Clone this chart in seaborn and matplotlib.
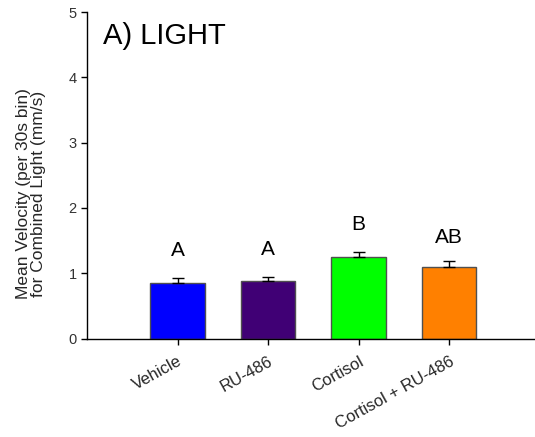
import matplotlib
matplotlib.use("Agg")
import matplotlib.pyplot as plt
import seaborn as sns
import pandas as pd
import numpy as np

categories = ["Vehicle", "RU-486", "Cortisol", "Cortisol + RU-486"]
means = [0.855, 0.88, 1.245, 1.10]
sems = [0.075, 0.065, 0.075, 0.09]
letters = ["A", "A", "B", "AB"]
letter_y = [1.21, 1.22, 1.60, 1.40]
colors = ["#0000FF", "#400075", "#00FF00", "#FF8000"]
yticks = [0, 1, 2, 3, 4, 5]

sns.set_theme(style="ticks")
plt.rcParams['font.family'] = ['Liberation Sans', 'DejaVu Sans']

df = pd.DataFrame({"group": categories, "mean": means})

fig = plt.figure(figsize=(5.35, 4.37), dpi=100)
ax = fig.add_axes([0.1626, 0.2252, 0.8462, 0.7471])

sns.barplot(data=df, x="group", y="mean", hue="group", palette=colors,
            order=categories, hue_order=categories, dodge=False,
            errorbar=None, width=0.6, edgecolor="#505050", linewidth=1.0,
            saturation=1, legend=False, ax=ax)

xs = np.arange(len(categories))
ax.errorbar(xs, means, yerr=[np.zeros(len(sems)), sems], fmt="none",
            ecolor="black", elinewidth=1.0, capsize=4.5, capthick=1.0, zorder=3)

for x, ly, l in zip(xs, letter_y, letters):
    ax.text(x, ly, l, ha="center", va="bottom", fontsize=15, color="black")

ax.set_xlim(-1, 4)
ax.set_ylim(0, 5)
ax.set_yticks(yticks)
ax.set_yticklabels([str(t) for t in yticks], fontsize=10.5, color="#333333")
ax.set_xticks(xs)
ax.set_xticklabels(categories, rotation=29, ha="right", rotation_mode="anchor",
                   fontsize=12)
ax.set_xlabel("")
ax.set_ylabel("Mean Velocity (per 30s bin)\nfor Combined Light (mm/s)",
              fontsize=12.5, linespacing=1.0)
ax.yaxis.set_label_coords(-0.09, 0.443)
ax.tick_params(axis="both", direction="out", length=4, width=1, color="black")
ax.tick_params(axis="x", pad=7)
for sp in ["top", "right"]:
    ax.spines[sp].set_visible(False)
for sp in ["left", "bottom"]:
    ax.spines[sp].set_color("black")
    ax.spines[sp].set_linewidth(1.0)

ax.text(0.035, 0.97, "A) LIGHT", transform=ax.transAxes, fontsize=21,
        ha="left", va="top", color="black")

fig.savefig("out.png", dpi=100)
